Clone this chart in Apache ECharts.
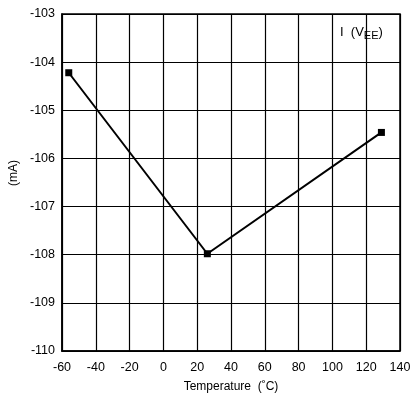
<!DOCTYPE html>
<html>
<head>
<meta charset="utf-8">
<script src="https://cdn.jsdelivr.net/npm/echarts@6/dist/echarts.min.js"></script>
<style>
  html, body { margin: 0; padding: 0; background: #fff; }
  #chart { width: 413px; height: 393px; }
</style>
</head>
<body>
<div id="chart"></div>
<script>
// Supply current vs. temperature
const temperatures = [-56, 26, 129];
const currents = [-104.22, -107.98, -105.46];
const xTicks = { min: -60, max: 140, step: 20 };
const yTicks = { min: -110, max: -103, step: 1 };

const chart = echarts.init(document.getElementById('chart'));
const font = '"Liberation Sans", Arial, sans-serif';

chart.setOption({
  animation: false,
  backgroundColor: '#fff',
  grid: {
    left: 62, top: 14, width: 338, height: 337,
    outerBoundsMode: 'none', containLabel: false,
    show: true, borderColor: '#000', borderWidth: 1.5
  },
  xAxis: {
    type: 'value',
    min: xTicks.min, max: xTicks.max, interval: xTicks.step,
    name: 'Temperature  (˚C)', nameLocation: 'middle', nameGap: 30,
    nameTextStyle: { color: '#000', fontFamily: font, fontSize: 12 },
    axisLine: { onZero: false, lineStyle: { color: '#000', width: 1.5 } },
    axisTick: { show: false },
    axisLabel: { color: '#000', fontFamily: font, fontSize: 12.5, margin: 10 },
    splitLine: { lineStyle: { color: '#000', width: 1.2 } }
  },
  yAxis: {
    type: 'value',
    min: yTicks.min, max: yTicks.max, interval: yTicks.step,
    axisLine: { onZero: false, lineStyle: { color: '#000', width: 1.5 } },
    axisTick: { show: false },
    axisLabel: { color: '#000', fontFamily: font, fontSize: 12.5, margin: 7 },
    splitLine: { lineStyle: { color: '#000', width: 1.2 } }
  },
  graphic: [{
    type: 'text', x: 14, y: 173, rotation: Math.PI / 2,
    style: { text: '(mA)', fontFamily: font, fontSize: 12, fill: '#000', align: 'center', verticalAlign: 'middle' }
  }, {
    type: 'text', left: 340, top: 26,
    style: {
      text: '{a|I  (V}{s|EE}{a|)}',
      rich: {
        a: { fontFamily: font, fontSize: 13, fill: '#000' },
        s: { fontFamily: font, fontSize: 11, fill: '#000', padding: [7, 0, 0, 0] }
      }
    }
  }],
  series: [{
    type: 'line',
    data: temperatures.map((t, i) => [t, currents[i]]),
    symbol: 'rect', symbolSize: 7,
    itemStyle: { color: '#000' },
    lineStyle: { color: '#000', width: 2 }
  }]
});
</script>
</body>
</html>
